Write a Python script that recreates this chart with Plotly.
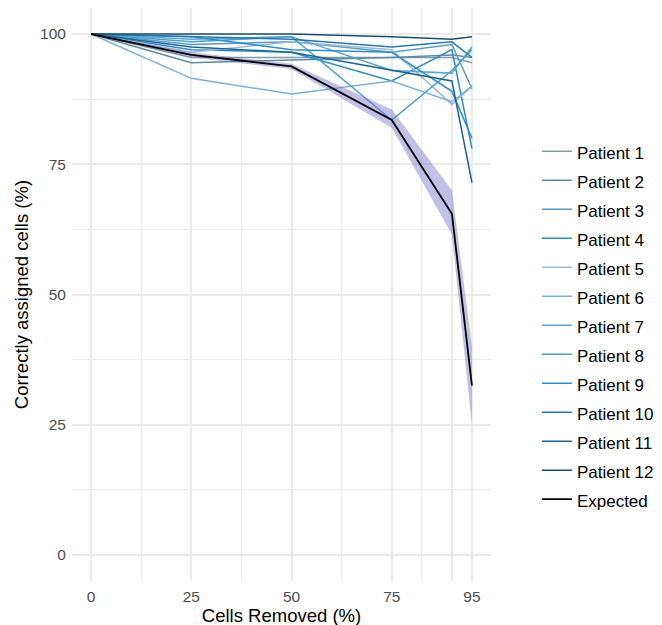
import plotly.graph_objects as go

x_removed = [0, 25, 50, 75, 90, 95]
x_tickvals = [0, 25, 50, 75, 90, 95]
x_ticktext = ["0", "25", "50", "75", "", "95"]
x_minor = [12.5, 37.5, 62.5, 82.5]
y_tickvals = [0, 25, 50, 75, 100]
y_minor = [12.5, 37.5, 62.5, 87.5]

patients = ["Patient 1", "Patient 2", "Patient 3", "Patient 4", "Patient 5", "Patient 6",
            "Patient 7", "Patient 8", "Patient 9", "Patient 10", "Patient 11", "Patient 12"]
p1 = [100, 95.5, 95.5, 95.5, 95.5, 94.5]
p2 = [100, 94.5, 95.0, 95.5, 96.0, 95.5]
p3 = [100, 98.0, 98.5, 96.5, 98.0, 89.5]
p4 = [100, 97.0, 96.5, 91.0, 97.0, 78.0]
p5 = [100, 96.5, 98.5, 97.0, 86.5, 90.0]
p6 = [100, 91.5, 88.5, 91.0, 87.0, 90.0]
p7 = [100, 99.0, 99.5, 93.0, 92.5, 97.5]
p8 = [100, 98.5, 99.5, 83.5, 93.0, 97.0]
p9 = [100, 99.5, 97.0, 96.5, 89.0, 80.0]
p10 = [100, 99.5, 99.0, 97.5, 98.5, 95.5]
p11 = [100, 97.5, 96.5, 93.0, 91.0, 71.5]
p12 = [100, 100.0, 100.0, 99.5, 99.0, 99.5]
patient_values = [p1, p2, p3, p4, p5, p6, p7, p8, p9, p10, p11, p12]
colors = ["#7F9BA6", "#5E8BA0", "#5A9BBE", "#2C8AC6", "#9DBBD8", "#7DB0D8",
          "#5AA6D0", "#4A9FCB", "#2E8CCB", "#2878AE", "#1D6496", "#1E4D6B"]

expected = [100, 96.0, 93.8, 83.5, 65.5, 32.5]
expected_lo = [100, 95.5, 93.3, 82.0, 61.5, 25.0]
expected_hi = [100, 96.5, 94.3, 85.5, 70.0, 40.0]

LEG = "<span style='font-size:17px'>%s</span>"

fig = go.Figure()
for name, vals, col in zip(patients, patient_values, colors):
    fig.add_trace(go.Scatter(x=x_removed, y=vals, mode="lines", name=LEG % name,
                             line=dict(color=col, width=1.5)))

fig.add_trace(go.Scatter(x=x_removed, y=expected_hi, mode="lines", line=dict(width=0),
                         showlegend=False, legendgroup="exp", hoverinfo="skip"))
fig.add_trace(go.Scatter(x=x_removed, y=expected_lo, mode="lines", line=dict(width=0),
                         fill="tonexty", fillcolor="rgba(120,115,200,0.45)",
                         showlegend=False, legendgroup="exp", hoverinfo="skip"))
fig.add_trace(go.Scatter(x=x_removed, y=expected, mode="lines", name=LEG % "Expected",
                         legendgroup="exp", line=dict(color="black", width=1.8)))

grid_major = "#EBEBEB"
fig.update_layout(
    width=662, height=625,
    margin=dict(l=64, r=179, t=0, b=52, autoexpand=False),
    paper_bgcolor="white", plot_bgcolor="white",
    font=dict(family="Liberation Sans, Arial, sans-serif", size=15, color="black"),
    showlegend=True,
    legend=dict(x=1.1095, xanchor="left", y=0.4465, yanchor="middle",
                font=dict(size=20, color="black"), bgcolor="rgba(0,0,0,0)",
                tracegroupgap=0, itemwidth=30, borderwidth=0),
    xaxis=dict(range=[-4.75, 99.75], tickvals=x_tickvals, ticktext=x_ticktext,
               showgrid=True, gridcolor=grid_major, gridwidth=1.6, zeroline=False,
               showline=False, ticks="outside", ticklen=1, tickcolor="rgba(0,0,0,0)",
               tickfont=dict(size=15.5, color="#4D4D4D"), automargin=False,
               title=dict(text="Cells Removed (%)", font=dict(size=18.5), standoff=0),
               minor=dict(tickvals=x_minor, showgrid=True, gridcolor=grid_major, gridwidth=0.8)),
    yaxis=dict(range=[-5, 105], tickvals=y_tickvals,
               showgrid=True, gridcolor=grid_major, gridwidth=1.6, zeroline=False,
               showline=False, ticks="outside", ticklen=2, tickcolor="rgba(0,0,0,0)",
               tickfont=dict(size=15.5, color="#4D4D4D"), automargin=False,
               title=dict(text="Correctly assigned cells (%)", font=dict(size=18.5), standoff=6),
               minor=dict(tickvals=y_minor, showgrid=True, gridcolor=grid_major, gridwidth=0.8)),
)

fig.write_html("out.html")
